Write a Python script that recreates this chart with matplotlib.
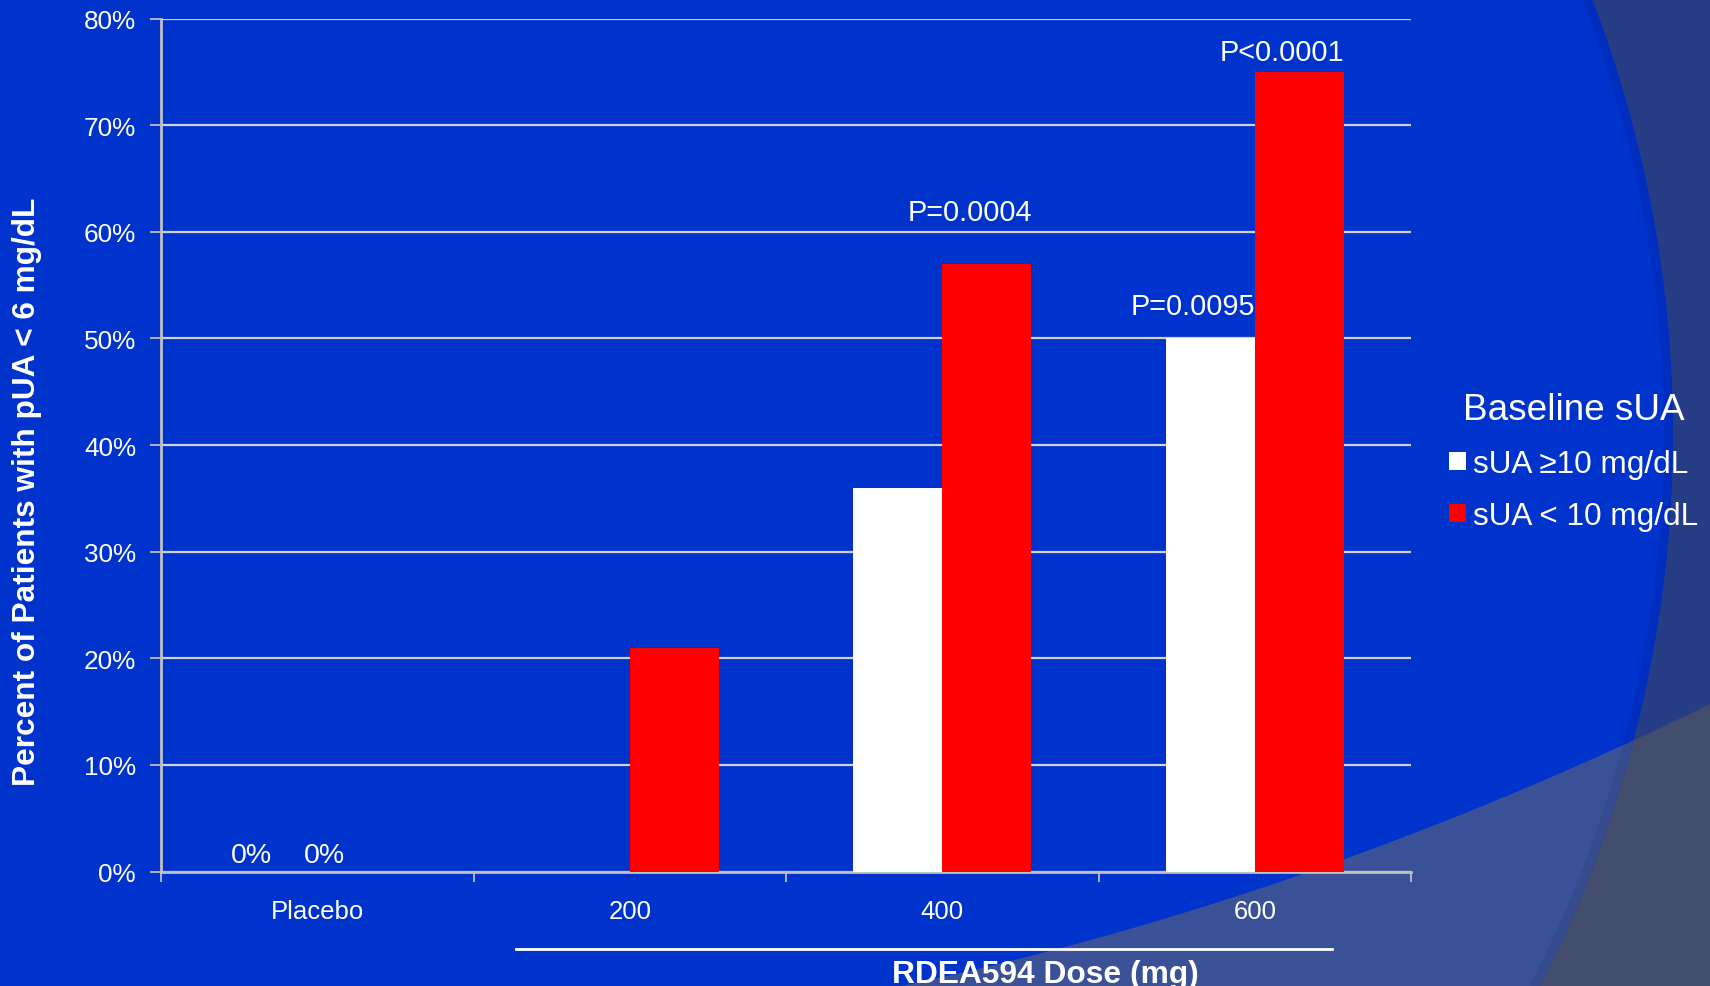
import numpy as np
import matplotlib
matplotlib.use("Agg")
from matplotlib import pyplot as plt
from matplotlib.patches import Circle, Polygon, Rectangle
from matplotlib.lines import Line2D

plt.rcParams['font.family'] = ['Liberation Sans', 'DejaVu Sans']

# percent of patients reaching pUA < 6 mg/dL, by dose and baseline sUA
doses = ['Placebo', '200', '400', '600']
high_sua = [0, 0, 36, 50]    # sUA >= 10 mg/dL
low_sua = [0, 21, 57, 75]    # sUA < 10 mg/dL
series_names = ['sUA \u226510 mg/dL', 'sUA < 10 mg/dL']

# p-values: (dose index, series, text)
p_values = [(2, 'low', 'P=0.0004'), (3, 'high', 'P=0.0095'), (3, 'low', 'P<0.0001')]
p_gaps = [4.1, 2.3, 1.1]

W, H = 1710, 987
BLUE = '#0032CC'
fig = plt.figure(figsize=(W / 100, H / 100), dpi=100)

# slide background: bright blue disc, darker surround, grey sweep at the bottom
bg = fig.add_axes([0, 0, 1, 1], zorder=0)
bg.set_xlim(0, W)
bg.set_ylim(H, 0)
bg.axis('off')
bg.add_patch(Rectangle((0, 0), W, H, color='#263D85'))
sx = np.array([903, 1137, 1309, 1400, 1710])
sy = np.array([987, 927, 873, 840, 705])
cf = np.polyfit(sx, sy, 2)
xx = np.linspace(880, W, 60)
edge = np.column_stack([xx, np.polyval(cf, xx)])
sweep_pts = np.vstack([edge, [[W, H], [880, H]]])
bg.add_patch(Polygon(sweep_pts, closed=True, color='#424C6C', lw=0))
disc = Circle((464, 435), 1209, color=BLUE, lw=0)
bg.add_patch(disc)
inner = Polygon(sweep_pts, closed=True, color='#3A5198', lw=0)
bg.add_patch(inner)
inner.set_clip_path(disc)
for k in range(7):
    rim = Circle((464, 435), 1209 - 1.4 * k, fill=False, edgecolor='black',
                 lw=1.5, alpha=0.045)
    bg.add_patch(rim)
    rim.set_clip_path(disc)

# chart
ax = fig.add_axes([161 / W, 1 - 872.5 / H, 1250 / W, 852.9 / H], zorder=1)
ax.set_facecolor('none')
x = np.arange(len(doses))
w = 0.285
b1 = ax.bar(x - w / 2, high_sua, w, color='white', zorder=3, label=series_names[0])
b2 = ax.bar(x + w / 2, low_sua, w, color='#FF0000', zorder=3, label=series_names[1])

ax.set_xlim(-0.5, len(doses) - 0.5)
ax.set_ylim(0, 80)
ax.set_yticks(range(0, 81, 10))
ax.set_yticklabels([f'{v}%' for v in range(0, 81, 10)])
ax.set_xticks(np.arange(-0.5, len(doses), 1.0))
ax.set_xticklabels([])
ax.set_xticks(x, minor=True)
ax.set_xticklabels(doses, minor=True)
ax.tick_params(axis='x', which='major', length=7, width=1.2, color='#C8C8C8', direction='out')
ax.tick_params(axis='x', which='minor', length=0, pad=20, labelsize=18.5, labelcolor='white')
ax.tick_params(axis='y', length=8, width=1.2, color='#C8C8C8', pad=10, labelsize=18.8,
               labelcolor='white')
ax.grid(axis='y', color='#D2D2D2', lw=1.6, zorder=1)
ax.set_axisbelow(True)
for s in ['top', 'right']:
    ax.spines[s].set_visible(False)
for s in ['left', 'bottom']:
    ax.spines[s].set_color('#C0C0C0')
    ax.spines[s].set_linewidth(2)

# zero labels for placebo
ax.text(x[0] - w / 2 - 0.067, high_sua[0] + 0.9, f'{high_sua[0]}%', ha='center',
        va='baseline', color='white', fontsize=20.5)
ax.text(x[0] + w / 2 - 0.118, low_sua[0] + 0.9, f'{low_sua[0]}%', ha='center',
        va='baseline', color='white', fontsize=20.5)

for (i, ser, txt), gap in zip(p_values, p_gaps):
    if ser == 'high':
        xc, val = x[i] - w / 2, high_sua[i]
    else:
        xc, val = x[i] + w / 2, low_sua[i]
    ax.text(xc - 0.055, val + gap, txt, ha='center', va='baseline', color='white',
            fontsize=20.8)

fig.text(26.7 / W, 1 - 491.7 / H, 'Percent of Patients with pUA < 6 mg/dL', rotation=90,
         ha='center', va='center', color='white', fontsize=22.8, fontweight='bold')
fig.text(1045 / W, 4 / H, 'RDEA594 Dose (mg)', ha='center', va='baseline',
         color='white', fontsize=22.9, fontweight='bold')
fig.add_artist(Line2D([516 / W, 1332 / W], [1 - 950 / H, 1 - 950 / H], color='white', lw=2))

leg = ax.legend(handles=[b1, b2], title='Baseline sUA', loc='upper left',
                bbox_to_anchor=(1449 / W, 1 - 393 / H), bbox_transform=fig.transFigure,
                frameon=False, fontsize=22.7, title_fontsize=26.6, borderpad=0,
                borderaxespad=0, handlelength=0.54, handleheight=0.54,
                handletextpad=0.22, labelspacing=0.7)
for t in leg.get_texts():
    t.set_color('white')
leg.get_title().set_color('white')

fig.savefig('out.png', dpi=100)
